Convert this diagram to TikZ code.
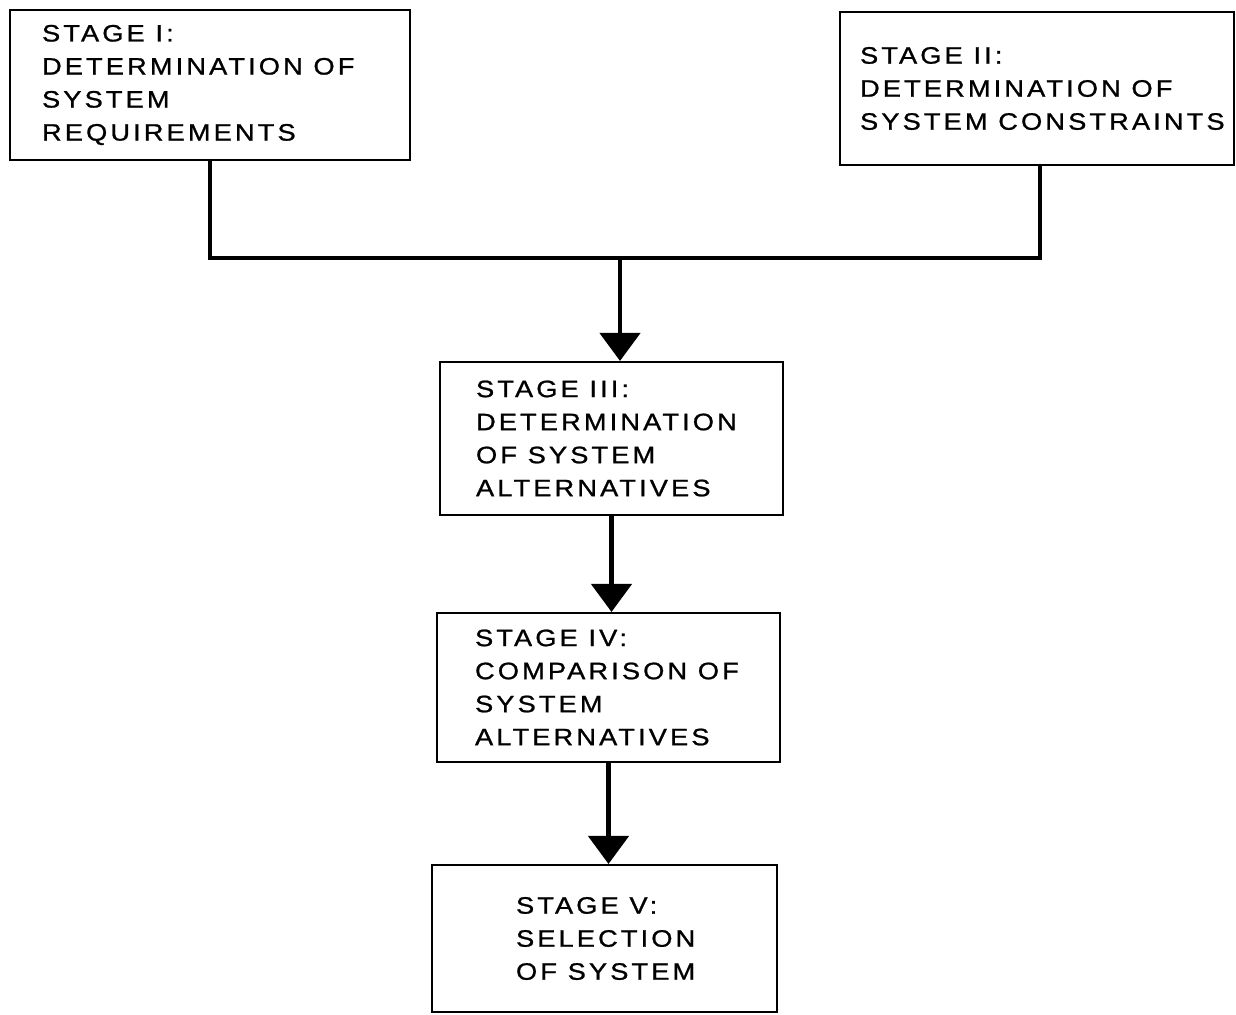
\documentclass[tikz,border=0pt]{standalone}
\usepackage{fontspec}
\usepackage{tikz}
\usetikzlibrary{arrows.meta,positioning}
\newfontfamily\stagefont{Liberation Sans}[FakeStretch=1.15,FakeBold=1,LetterSpace=13]
\newcommand\stagetext{\stagefont\fontsize{13.5}{18.8}\selectfont}

\begin{document}
\begin{tikzpicture}[x=0.02cm,y=-0.02cm,
    stagebox/.style={draw,line width=1.2pt,align=left,font=\stagetext,inner ysep=0pt,
        execute at begin node={\setlength{\spaceskip}{0.45em}}},
    flow/.style={line width=2.6pt},
    flowarrow/.style={flow,-{Triangle[width=0.8cm,length=0.56cm]}}]
    \useasboundingbox (0,0) rectangle (1236,1014);

    \node[stagebox,minimum width=8cm,minimum height=3cm,inner xsep=0.64cm,text width=6.72cm] (s1) at (210,85)
        {STAGE I:\\DETERMINATION OF\\SYSTEM\\REQUIREMENTS};
    \node[stagebox,minimum width=7.88cm,minimum height=3.06cm,inner xsep=0.4cm,text width=7.08cm] (s2) at (1037,88.5)
        {STAGE II:\\DETERMINATION OF\\\mbox{SYSTEM CONSTRAINTS}};
    \node[stagebox,minimum width=6.86cm,minimum height=3.06cm,inner xsep=0.72cm,text width=5.42cm] (s3) at (611.5,438.5)
        {STAGE III:\\DETERMINATION\\OF SYSTEM\\ALTERNATIVES};
    \node[stagebox,minimum width=6.86cm,minimum height=2.98cm,inner xsep=0.76cm,text width=5.34cm] (s4) at (608.5,687.5)
        {STAGE IV:\\COMPARISON OF\\SYSTEM\\ALTERNATIVES};
    \node[stagebox,minimum width=6.9cm,minimum height=2.94cm,inner xsep=1.68cm,text width=3.54cm] (s5) at (604.5,938.5)
        {STAGE V:\\SELECTION\\OF SYSTEM};

    % join of stage I and II
    \coordinate (left) at (210,258);
    \coordinate (right) at (1040,258);
    \coordinate (join) at (620,258);
    \draw[flow] (s1.south) -- (left) -- (right) -- (s2.south -| right);
    \draw[flowarrow] (join) -- (join |- s3.north);

    \draw[flowarrow] (s3.south) -- (s3.south |- s4.north);
    \draw[flowarrow] (s4.south) -- (s4.south |- s5.north);
\end{tikzpicture}
\end{document}
